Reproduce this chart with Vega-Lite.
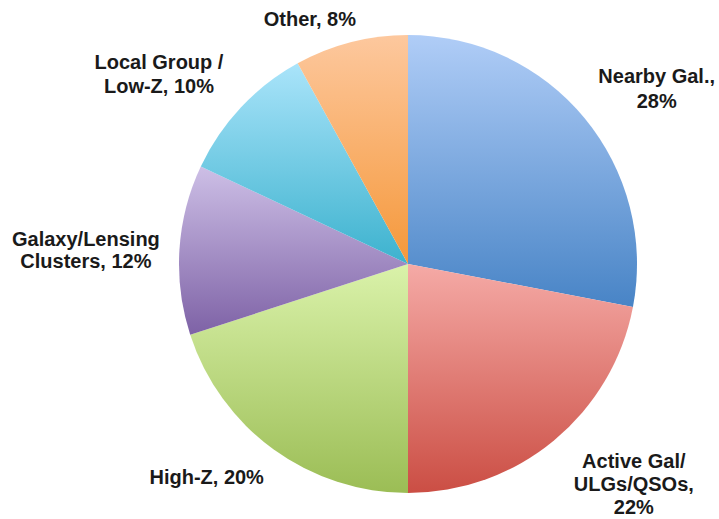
{
  "$schema": "https://vega.github.io/schema/vega-lite/v6.json",
  "autosize": {"type": "none"},
  "width": 622,
  "height": 510,
  "padding": {"left": 97, "top": 9, "right": 0, "bottom": 0},
  "background": "white",
  "view": {"stroke": null},
  "data": {
    "values": [
      {"category": "Nearby Gal.", "label": "Nearby Gal.,\n28%", "value": 28, "rank": 1},
      {"category": "Active Gal/ULGs/QSOs", "label": "Active Gal/\nULGs/QSOs,\n22%", "value": 22, "rank": 2},
      {"category": "High-Z", "label": "High-Z, 20%", "value": 20, "rank": 3},
      {"category": "Galaxy/Lensing Clusters", "label": "Galaxy/Lensing\nClusters, 12%", "value": 12, "rank": 4},
      {"category": "Local Group / Low-Z", "label": "Local Group /\nLow-Z, 10%", "value": 10, "rank": 5},
      {"category": "Other", "label": "Other, 8%", "value": 8, "rank": 6}
    ]
  },
  "encoding": {
    "theta": {"field": "value", "type": "quantitative", "stack": true},
    "order": {"field": "rank", "type": "quantitative"}
  },
  "layer": [
    {
      "mark": {"type": "arc", "radius": 229, "fill": {"gradient": "linear", "x1": 0, "y1": 0, "x2": 0, "y2": 1, "stops": [{"offset": 0, "color": "#b0cdf7"}, {"offset": 1, "color": "#4884c6"}]}},
      "encoding": {"fillOpacity": {"condition": {"test": "datum.rank === 1", "value": 1}, "value": 0}}
    },
    {
      "mark": {"type": "arc", "radius": 229, "fill": {"gradient": "linear", "x1": 0, "y1": 0, "x2": 0, "y2": 1, "stops": [{"offset": 0, "color": "#f5aaa6"}, {"offset": 1, "color": "#cb4e44"}]}},
      "encoding": {"fillOpacity": {"condition": {"test": "datum.rank === 2", "value": 1}, "value": 0}}
    },
    {
      "mark": {"type": "arc", "radius": 229, "fill": {"gradient": "linear", "x1": 0, "y1": 0, "x2": 0, "y2": 1, "stops": [{"offset": 0, "color": "#daf2aa"}, {"offset": 1, "color": "#9bbd55"}]}},
      "encoding": {"fillOpacity": {"condition": {"test": "datum.rank === 3", "value": 1}, "value": 0}}
    },
    {
      "mark": {"type": "arc", "radius": 229, "fill": {"gradient": "linear", "x1": 0, "y1": 0, "x2": 0, "y2": 1, "stops": [{"offset": 0, "color": "#cdbfe6"}, {"offset": 1, "color": "#7e62a6"}]}},
      "encoding": {"fillOpacity": {"condition": {"test": "datum.rank === 4", "value": 1}, "value": 0}}
    },
    {
      "mark": {"type": "arc", "radius": 229, "fill": {"gradient": "linear", "x1": 0, "y1": 0, "x2": 0, "y2": 1, "stops": [{"offset": 0, "color": "#aae4fa"}, {"offset": 1, "color": "#3cb2ce"}]}},
      "encoding": {"fillOpacity": {"condition": {"test": "datum.rank === 5", "value": 1}, "value": 0}}
    },
    {
      "mark": {"type": "arc", "radius": 229, "fill": {"gradient": "linear", "x1": 0, "y1": 0, "x2": 0, "y2": 1, "stops": [{"offset": 0, "color": "#fdc89e"}, {"offset": 1, "color": "#f5983a"}]}},
      "encoding": {"fillOpacity": {"condition": {"test": "datum.rank === 6", "value": 1}, "value": 0}}
    },
    {
      "mark": {"type": "text", "radius": 311, "thetaOffset": 0.047, "font": "Liberation Sans", "fontWeight": "bold", "fontSize": 20, "lineHeight": 25, "lineBreak": "\n", "align": "center", "baseline": "middle", "color": "#1a1a1a"},
      "encoding": {"text": {"field": "label", "type": "nominal", "condition": {"test": "datum.rank !== 1", "value": ""}}}
    },
    {
      "mark": {"type": "text", "radius": 300, "thetaOffset": -0.161, "font": "Liberation Sans", "fontWeight": "bold", "fontSize": 20, "lineHeight": 23, "lineBreak": "\n", "align": "center", "baseline": "middle", "color": "#1a1a1a"},
      "encoding": {"text": {"field": "label", "type": "nominal", "condition": {"test": "datum.rank !== 2", "value": ""}}}
    },
    {
      "mark": {"type": "text", "radius": 294, "thetaOffset": 0.126, "font": "Liberation Sans", "fontWeight": "bold", "fontSize": 20, "lineHeight": 23, "lineBreak": "\n", "align": "center", "baseline": "middle", "color": "#1a1a1a"},
      "encoding": {"text": {"field": "label", "type": "nominal", "condition": {"test": "datum.rank !== 3", "value": ""}}}
    },
    {
      "mark": {"type": "text", "radius": 323, "thetaOffset": 0.012, "font": "Liberation Sans", "fontWeight": "bold", "fontSize": 20, "lineHeight": 22, "lineBreak": "\n", "align": "center", "baseline": "middle", "color": "#1a1a1a"},
      "encoding": {"text": {"field": "label", "type": "nominal", "condition": {"test": "datum.rank !== 4", "value": ""}}}
    },
    {
      "mark": {"type": "text", "radius": 320, "thetaOffset": -0.075, "font": "Liberation Sans", "fontWeight": "bold", "fontSize": 20, "lineHeight": 24, "lineBreak": "\n", "align": "center", "baseline": "middle", "color": "#1a1a1a"},
      "encoding": {"text": {"field": "label", "type": "nominal", "condition": {"test": "datum.rank !== 5", "value": ""}}}
    },
    {
      "mark": {"type": "text", "radius": 263, "thetaOffset": -0.131, "font": "Liberation Sans", "fontWeight": "bold", "fontSize": 20, "lineHeight": 23, "lineBreak": "\n", "align": "center", "baseline": "middle", "color": "#1a1a1a"},
      "encoding": {"text": {"field": "label", "type": "nominal", "condition": {"test": "datum.rank !== 6", "value": ""}}}
    }
  ]
}
